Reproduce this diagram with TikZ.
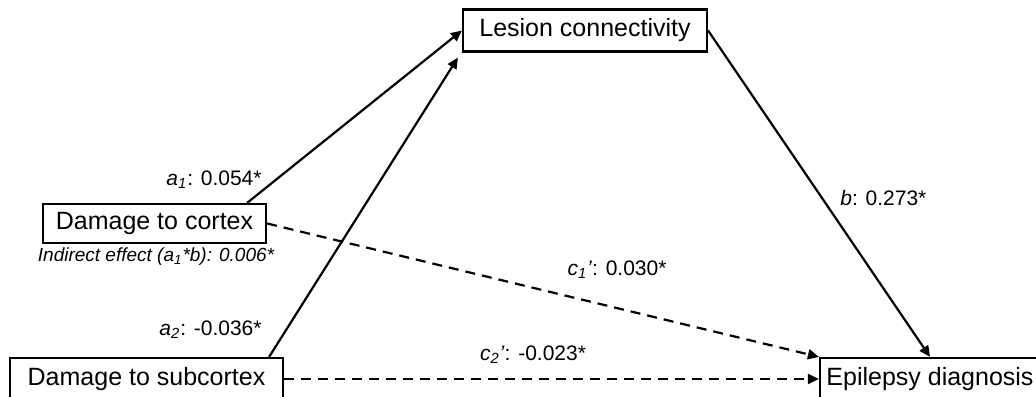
\documentclass[tikz,border=0pt]{standalone}
\usepackage{fontspec}
\setmainfont{Liberation Sans}
\usetikzlibrary{arrows.meta, calc}

\tikzset{
    box/.style={draw, line width=1.1pt, inner sep=0pt, font=\fontsize{12.5}{14}\selectfont},
    lbl/.style={inner sep=0pt, font=\fontsize{10.5}{12}\selectfont},
    arr/.style={line width=1.1pt, -{Triangle[length=5.5pt, width=5pt]}},
    dsh/.style={arr, dash pattern=on 5pt off 3.5pt}
}

\begin{document}
\begin{tikzpicture}[x=50pt, y=50pt]

    \useasboundingbox (0,0) rectangle (10.36,3.96);

    % Mediator and predictors
    \node[box, minimum width=122pt, minimum height=21pt] (lesion) at (5.85,3.655) {Lesion connectivity};
    \node[box, minimum width=111.5pt, minimum height=19.5pt] (cortex) at (1.545,1.725) {Damage to cortex};
    \node[box, minimum width=136.5pt, minimum height=21pt] (subcortex) at (1.465,0.17) {Damage to subcortex};

    % Outcome
    \node[box, minimum width=110pt, minimum height=21pt] (epilepsy) at (9.30,0.17) {Epilepsy diagnosis};

    % Paths a and b
    \draw[arr] ([xshift=-10pt]cortex.north east) -- (lesion.west);
    \draw[arr] ([xshift=-7.5pt]subcortex.north east) -- ([shift={(-2pt,-2.5pt)}]lesion.south west);
    \draw[arr] (lesion.east) -- (epilepsy.north);

    % Direct paths
    \draw[dsh] (cortex.east) -- (epilepsy.north west);
    \draw[dsh] (subcortex.east) -- (epilepsy.west);

    % Coefficients
    \node[lbl, anchor=east] (la1) at (2.62,2.16) {\textit{a\textsubscript{1}}: 0.054*};
    \node[lbl, anchor=east] (la2) at (2.62,0.66) {\textit{a\textsubscript{2}}: -0.036*};
    \node[lbl, anchor=west] (lb) at (8.40,1.98) {\textit{b}: 0.273*};
    \node[lbl] (lc1) at (6.17,1.26) {\textit{c\textsubscript{1}’}: 0.030*};
    \node[lbl] (lc2) at (5.33,0.41) {\textit{c\textsubscript{2}’}: -0.023*};
    \node[lbl, font=\fontsize{9.5}{11}\selectfont\itshape] (lind) at (1.56,1.39) {Indirect effect (a\textsubscript{1}*b): 0.006*};

\end{tikzpicture}
\end{document}
